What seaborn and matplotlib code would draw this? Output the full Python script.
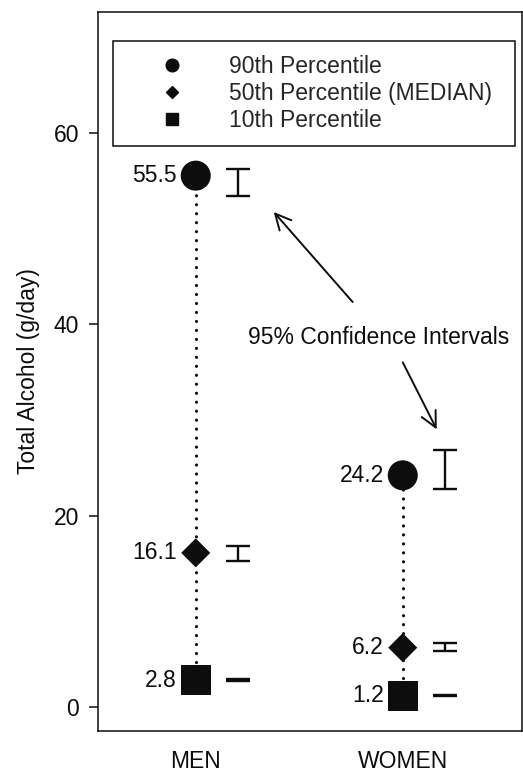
import matplotlib
matplotlib.use("Agg")
import matplotlib.pyplot as plt
from matplotlib.lines import Line2D
import seaborn as sns
import pandas as pd

# data
groups = ["MEN", "WOMEN"]
percentiles = ["90th Percentile", "50th Percentile (MEDIAN)", "10th Percentile"]
men_values = [55.5, 16.1, 2.8]
women_values = [24.2, 6.2, 1.2]
# 95% confidence intervals (lower, upper), same order as percentiles
men_ci_low = [53.4, 15.3, 2.7]
men_ci_high = [56.2, 16.8, 2.9]
women_ci_low = [22.8, 5.8, 1.1]
women_ci_high = [26.8, 6.7, 1.3]

group_pos = [0, 1]
ci_offset = 0.203

rows = []
for g, pos, vals, lo, hi in zip(groups, group_pos,
                                [men_values, women_values],
                                [men_ci_low, women_ci_low],
                                [men_ci_high, women_ci_high]):
    for p, v, l, h in zip(percentiles, vals, lo, hi):
        rows.append({"group": g, "pos": pos, "pct": p, "value": v, "lo": l, "hi": h})
df = pd.DataFrame(rows)

sns.set_theme(style="ticks")
plt.rcParams["font.family"] = ["Liberation Sans", "DejaVu Sans"]
fs = 16.5
ink = "#0d0d0d"

fig = plt.figure(figsize=(5.23, 7.74), dpi=100)
ax = fig.add_axes([0.187, 0.0556, 0.8107, 0.929])

# dotted connectors between 10th and 90th percentile
for pos, vals in zip(group_pos, [men_values, women_values]):
    ax.plot([pos, pos], [min(vals), max(vals)], color=ink, lw=2.3,
            linestyle=(0, (0.01, 2.8)), dash_capstyle="round", zorder=1)

markers = {percentiles[0]: "o", percentiles[1]: "D", percentiles[2]: "s"}
sizes = {percentiles[0]: 467, percentiles[1]: 219, percentiles[2]: 467}
sns.scatterplot(data=df, x="pos", y="value", style="pct", markers=markers,
                size="pct", sizes=sizes, color=ink, edgecolor="none",
                legend=False, ax=ax, zorder=3)

# confidence intervals
mid = (df["lo"] + df["hi"]) / 2
half = (df["hi"] - df["lo"]) / 2
ax.errorbar(df["pos"] + ci_offset, mid, yerr=half, fmt="none", ecolor=ink,
            elinewidth=1.7, capsize=8.3, capthick=1.7, zorder=2)

# value labels
for _, r in df.iterrows():
    ax.annotate(f"{r['value']:.1f}", (r["pos"], r["value"]), xytext=(-13.5, 0),
                textcoords="offset points", ha="right", va="center",
                fontsize=fs, color=ink)

# annotation
ax.text(0.885, 38.6, "95% Confidence Intervals", ha="center", va="center",
        fontsize=fs, color=ink)
arrow = dict(arrowstyle="->", lw=1.4, color=ink, mutation_scale=28,
             shrinkA=0, shrinkB=0)
ax.annotate("", xy=(0.377, 51.7), xytext=(0.758, 42.3), arrowprops=arrow)
ax.annotate("", xy=(1.164, 29.0), xytext=(1.0, 36.0), arrowprops=arrow)

ax.set_xlim(-0.473, 1.575)
ax.set_ylim(-2.5, 72.6)
ax.set_yticks([0, 20, 40, 60])
ax.set_xticks(group_pos)
ax.set_xticklabels(groups)
ax.tick_params(axis="y", length=6.5, width=1.1, pad=7, labelsize=fs, colors=ink)
ax.tick_params(axis="x", length=0, pad=14, labelsize=fs, colors=ink)
ax.set_xlabel("")
ax.set_ylabel("Total Alcohol (g/day)", fontsize=fs, labelpad=10, color=ink)
for s in ax.spines.values():
    s.set_visible(True)
    s.set_color(ink)
    s.set_linewidth(1.1)

handles = [
    Line2D([], [], marker="o", color=ink, linestyle="none", markersize=9.1),
    Line2D([], [], marker="D", color=ink, linestyle="none", markersize=6.1),
    Line2D([], [], marker="s", color=ink, linestyle="none", markersize=8.0),
]
leg = ax.legend(handles, percentiles, loc="upper left",
                bbox_to_anchor=(0.0354, 0, 0.948, 0.9597), mode="expand",
                borderaxespad=0, borderpad=0.6, handlelength=3.95,
                handletextpad=0.52, labelspacing=0.18, fontsize=fs,
                frameon=True, fancybox=False, framealpha=1)
leg.get_frame().set_edgecolor(ink)
leg.get_frame().set_linewidth(1.1)

fig.savefig("out.png", dpi=100)
